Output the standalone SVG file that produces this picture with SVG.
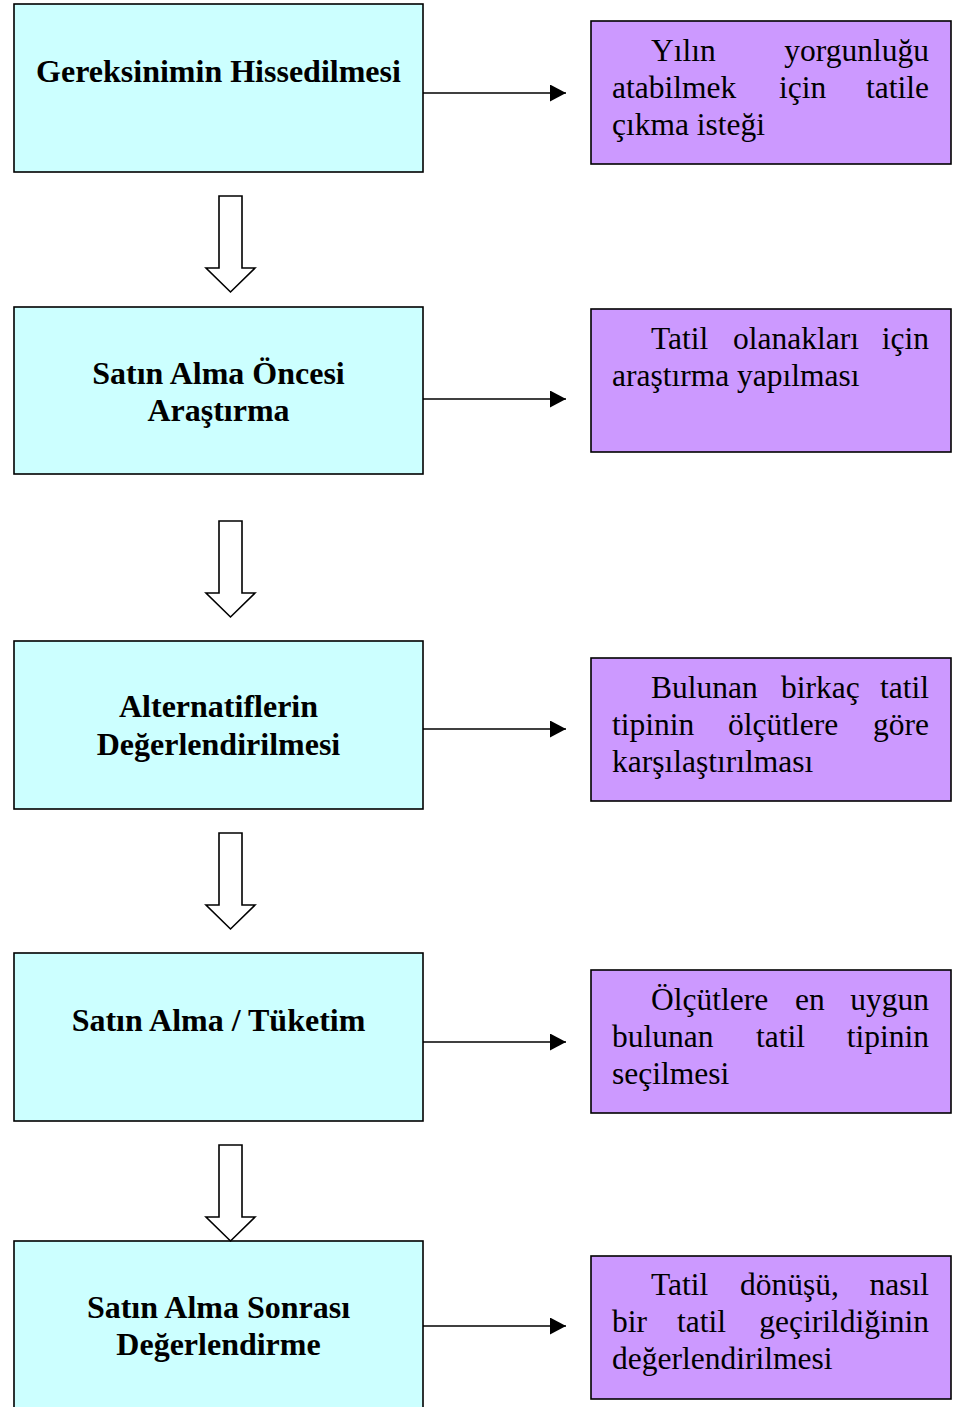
<svg xmlns="http://www.w3.org/2000/svg" width="955" height="1407" viewBox="0 0 955 1407">
<style>
.step{fill:#CCFFFF;stroke:#000;stroke-width:1.6}
.note{fill:#CC99FF;stroke:#000;stroke-width:1.6}
.st{font-family:"Liberation Serif","Times New Roman",serif;font-weight:bold;font-size:32px;fill:#000;text-anchor:middle}
.nt{font-family:"Liberation Serif","Times New Roman",serif;font-size:31.5px;fill:#000}
.e{text-anchor:end}
.conn line{stroke:#000;stroke-width:1.6}
.block{fill:#fff;stroke:#000;stroke-width:1.6;stroke-linejoin:miter}
</style>
<defs>
<marker id="ah" markerWidth="16" markerHeight="17" refX="16" refY="8.5" orient="auto" markerUnits="userSpaceOnUse">
<path d="M0,0 L16,8.5 L0,17 Z" fill="#000"/>
</marker>
</defs>
<rect width="955" height="1407" fill="#fff"/>

<g id="step1"><rect class="step" x="14" y="4" width="409" height="168"/>
<text class="st" x="218.5" y="82">Gereksinimin Hissedilmesi</text></g>
<g id="step2"><rect class="step" x="14" y="307" width="409" height="167"/>
<text class="st" x="218.5" y="384">Satın Alma Öncesi</text>
<text class="st" x="218.5" y="421">Araştırma</text></g>
<g id="step3"><rect class="step" x="14" y="641" width="409" height="168"/>
<text class="st" x="218.5" y="717">Alternatiflerin</text>
<text class="st" x="218.5" y="755">Değerlendirilmesi</text></g>
<g id="step4"><rect class="step" x="14" y="953" width="409" height="168"/>
<text class="st" x="218.5" y="1031">Satın Alma / Tüketim</text></g>
<g id="step5"><rect class="step" x="14" y="1241" width="409" height="180"/>
<text class="st" x="218.5" y="1318">Satın Alma Sonrası</text>
<text class="st" x="218.5" y="1355">Değerlendirme</text></g>

<g id="note1"><rect class="note" x="591" y="21" width="360" height="143"/>
<text class="nt" x="651" y="61">Yılın</text><text class="nt e" x="929" y="61">yorgunluğu</text>
<text class="nt" x="612" y="98">atabilmek</text><text class="nt" x="779" y="98">için</text><text class="nt e" x="929" y="98">tatile</text>
<text class="nt" x="612" y="135">çıkma isteği</text></g>
<g id="note2"><rect class="note" x="591" y="309" width="360" height="143"/>
<text class="nt" x="651" y="349">Tatil</text><text class="nt" x="733" y="349">olanakları</text><text class="nt e" x="929" y="349">için</text>
<text class="nt" x="612" y="386">araştırma yapılması</text></g>
<g id="note3"><rect class="note" x="591" y="658" width="360" height="143"/>
<text class="nt" x="651" y="698">Bulunan</text><text class="nt" x="781" y="698">birkaç</text><text class="nt e" x="929" y="698">tatil</text>
<text class="nt" x="612" y="735">tipinin</text><text class="nt" x="728" y="735">ölçütlere</text><text class="nt e" x="929" y="735">göre</text>
<text class="nt" x="612" y="772">karşılaştırılması</text></g>
<g id="note4"><rect class="note" x="591" y="970" width="360" height="143"/>
<text class="nt" x="651" y="1010">Ölçütlere</text><text class="nt" x="795" y="1010">en</text><text class="nt e" x="929" y="1010">uygun</text>
<text class="nt" x="612" y="1047">bulunan</text><text class="nt" x="756" y="1047">tatil</text><text class="nt e" x="929" y="1047">tipinin</text>
<text class="nt" x="612" y="1084">seçilmesi</text></g>
<g id="note5"><rect class="note" x="591" y="1256" width="360" height="143"/>
<text class="nt" x="651" y="1295">Tatil</text><text class="nt" x="740" y="1295">dönüşü,</text><text class="nt e" x="929" y="1295">nasıl</text>
<text class="nt" x="612" y="1332">bir</text><text class="nt" x="677" y="1332">tatil</text><text class="nt e" x="929" y="1332">geçirildiğinin</text>
<text class="nt" x="612" y="1369">değerlendirilmesi</text></g>

<g id="connectors" class="conn">
<line x1="423" y1="93" x2="566" y2="93" marker-end="url(#ah)"/>
<line x1="423" y1="399" x2="566" y2="399" marker-end="url(#ah)"/>
<line x1="423" y1="729" x2="566" y2="729" marker-end="url(#ah)"/>
<line x1="423" y1="1042" x2="566" y2="1042" marker-end="url(#ah)"/>
<line x1="423" y1="1326" x2="566" y2="1326" marker-end="url(#ah)"/>
<path class="block" d="M219,196 H242 V268 H255 L230.5,292 L206,268 H219 Z"/>
<path class="block" d="M219,521 H242 V593 H255 L230.5,617 L206,593 H219 Z"/>
<path class="block" d="M219,833 H242 V905 H255 L230.5,929 L206,905 H219 Z"/>
<path class="block" d="M219,1145 H242 V1217 H255 L230.5,1241 L206,1217 H219 Z"/>
</g>
</svg>
